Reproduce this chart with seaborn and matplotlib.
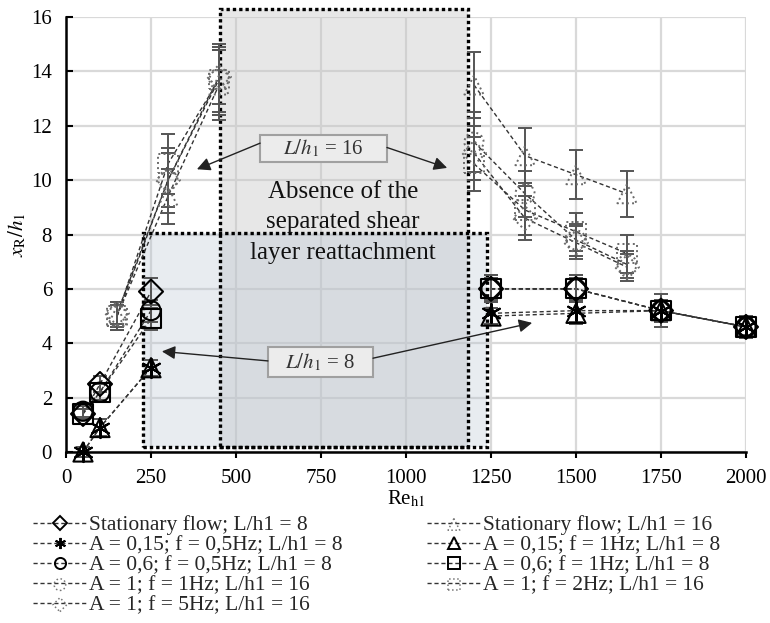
import numpy as np
import pandas as pd
import matplotlib
matplotlib.use("Agg")
import matplotlib.pyplot as plt
import seaborn as sns
from matplotlib.patches import Rectangle
from matplotlib.lines import Line2D
from matplotlib.legend_handler import HandlerTuple

# ---------------- data ----------------
re8 = [50, 100, 250, 1250, 1500, 1750, 2000]
stat8 = [1.4, 2.5, 5.9, 6.0, 6.0, 5.2, 4.6]
a015_f05 = [0.0, 0.9, 3.1, 5.1, 5.2, 5.2, 4.6]
a06_f05 = [1.5, 2.2, 5.2, 6.0, 6.0, 5.2, 4.6]
a015_f1 = [0.0, 0.9, 3.1, 5.0, 5.1, 5.2, 4.6]
a06_f1 = [1.4, 2.2, 4.9, 6.0, 6.0, 5.2, 4.6]
err8_stat = [0.2, 0.3, 0.5, 0.5, 0.5, 0.4, 0.3]
err8_a015_f05 = [0.2, 0.3, 0.3, 0.4, 0.4, 0.4, 0.3]
err8_a06_f05 = [0.2, 0.3, 0.4, 0.5, 0.5, 0.6, 0.4]
err8_a015_f1 = [0.2, 0.3, 0.3, 0.3, 0.4, 0.4, 0.3]
err8_a06_f1 = [0.2, 0.3, 0.4, 0.4, 0.4, 0.4, 0.3]

re16 = [150, 300, 450, 1200, 1350, 1500, 1650]
stat16 = [5.0, 9.4, 13.5, 13.5, 10.9, 10.2, 9.5]
a1_f1 = [5.0, 10.0, 13.7, 11.4, 9.5, 7.8, 6.9]
a1_f5 = [5.1, 10.0, 13.8, 11.0, 8.6, 7.7, 6.8]
a1_f2 = [5.0, 10.6, 13.7, 10.6, 8.9, 8.1, 7.3]
err16_stat = [0.4, 1.0, 1.3, 1.2, 1.0, 0.9, 0.85]
err16_a1_f1 = [0.5, 1.2, 1.2, 1.1, 0.85, 0.6, 0.5]
err16_a1_f5 = [0.4, 1.0, 1.0, 1.0, 0.8, 0.6, 0.5]
err16_a1_f2 = [0.5, 1.1, 1.3, 1.0, 0.9, 0.7, 0.7]

labels = [
    "Stationary flow; L/h1 = 8",
    "A = 0,15; f = 0,5Hz; L/h1 = 8",
    "A = 0,6; f = 0,5Hz; L/h1 = 8",
    "A = 1; f = 1Hz; L/h1 = 16",
    "A = 1; f = 5Hz; L/h1 = 16",
    "Stationary flow; L/h1 = 16",
    "A = 0,15; f = 1Hz; L/h1 = 8",
    "A = 0,6; f = 1Hz; L/h1 = 8",
    "A = 1; f = 2Hz; L/h1 = 16",
]

ASTER = (6, 2, 0)
series8 = [
    (stat8, err8_stat, "D", 0),
    (a015_f05, err8_a015_f05, ASTER, 1),
    (a06_f05, err8_a06_f05, "o", 2),
    (a015_f1, err8_a015_f1, "^", 6),
    (a06_f1, err8_a06_f1, "s", 7),
]
series16 = [
    (a1_f1, err16_a1_f1, "o", 3),
    (a1_f5, err16_a1_f5, "D", 4),
    (stat16, err16_stat, "^", 5),
    (a1_f2, err16_a1_f2, "s", 8),
]

# ---------------- style ----------------
sns.set_theme(style="white")
plt.rcParams["font.family"] = ["Liberation Serif", "DejaVu Serif"]
plt.rcParams["mathtext.fontset"] = "stix"

fig = plt.figure(figsize=(7.7, 6.23), dpi=100)
ax = fig.add_axes([66 / 770, 1 - 452 / 623, 680 / 770, 435 / 623])

ax.set_xlim(0, 2000)
ax.set_ylim(0, 16)
ax.set_xticks(np.arange(0, 2001, 250))
ax.set_yticks(np.arange(0, 17, 2))
ax.grid(True, color="#d9d9d9", lw=1.6)
ax.set_axisbelow(True)
for s in ["top", "right"]:
    ax.spines[s].set_visible(False)
ax.spines["left"].set_color("black")
ax.spines["left"].set_linewidth(1.8)
ax.spines["bottom"].set_color("black")
ax.spines["bottom"].set_linewidth(1.8)
ax.tick_params(axis="y", direction="in", length=5, width=1.5, colors="black",
               labelsize=15, pad=10, left=True)
ax.tick_params(axis="x", direction="out", length=4, width=1.5, colors="black",
               labelsize=15, pad=8, bottom=True)

# ---------------- shaded regions ----------------
ub = dict(x0=453, x1=1183, y0=0.2, y1=16.3)
lb = dict(x0=226, x1=1238, y0=0.2, y1=8.05)
ax.add_patch(Rectangle((ub["x0"], ub["y0"]), ub["x1"] - ub["x0"], ub["y1"] - ub["y0"],
                       facecolor="#c8c8c8", alpha=0.42, edgecolor="none", zorder=1, clip_on=False))
ax.add_patch(Rectangle((lb["x0"], lb["y0"]), lb["x1"] - lb["x0"], lb["y1"] - lb["y0"],
                       facecolor="#b8c4d2", alpha=0.32, edgecolor="none", zorder=1, clip_on=False))
for b in (ub, lb):
    ax.add_patch(Rectangle((b["x0"], b["y0"]), b["x1"] - b["x0"], b["y1"] - b["y0"],
                           facecolor="none", edgecolor="black", lw=2.4,
                           linestyle=(0, (1, 0.9)), zorder=1.5, clip_on=False))

# ---------------- lines ----------------
for ys, _, _, _ in series8:
    for sl in (slice(0, 3), slice(3, None)):
        sns.lineplot(x=re8[sl], y=ys[sl], ax=ax, color="#333333", lw=1.0,
                     linestyle=(0, (3, 2)), estimator=None, sort=False, zorder=3)
for ys, _, _, _ in series16:
    for sl in (slice(0, 3), slice(3, None)):
        sns.lineplot(x=re16[sl], y=ys[sl], ax=ax, color="#333333", lw=1.0,
                     linestyle=(0, (3, 2)), estimator=None, sort=False, zorder=3)

# ---------------- error bars ----------------
for ys, err, _, _ in series16:
    ax.errorbar(re16, ys, yerr=err, fmt="none", ecolor="#555555", elinewidth=1.4,
                capsize=5, capthick=1.4, zorder=4, clip_on=False)
for ys, err, _, _ in series8:
    ax.errorbar(re8, ys, yerr=err, fmt="none", ecolor="#555555", elinewidth=1.4,
                capsize=5, capthick=1.4, zorder=4, clip_on=False)

# ---------------- markers ----------------
msize = {"D": 150, "o": 190, "^": 190, "s": 190, ASTER: 190}
for ys, _, m, _ in series16:
    sns.scatterplot(x=re16, y=ys, ax=ax, marker=m, s=msize[m], facecolor="none",
                    edgecolor="#6a6a6a", linewidth=1.4, linestyle=":", zorder=5, clip_on=False)
for ys, _, m, _ in series8:
    sns.scatterplot(x=re8, y=ys, ax=ax, marker=m, s=msize[m],
                    facecolor="none" if m != ASTER else "black",
                    edgecolor="black", linewidth=1.5, zorder=6, clip_on=False)

# ---------------- annotations ----------------
ax.text(815, 8.45, "Absence of the\nseparated shear\nlayer reattachment", ha="center",
        va="center", fontsize=18, color="#111111", linespacing=1.5, zorder=7)
for (x0, x1, y0, y1) in [(571, 944, 10.66, 11.65), (594, 903, 2.76, 3.86)]:
    ax.add_patch(Rectangle((x0, y0), x1 - x0, y1 - y0, facecolor="#ececec",
                           edgecolor="#a0a0a0", lw=1.5, zorder=7))
ax.text(757, 11.16, r"$L/h_1$ = 16", ha="center", va="center", fontsize=15,
        color="#333333", zorder=8)
ax.text(748, 3.31, r"$L/h_1$ = 8", ha="center", va="center", fontsize=15,
        color="#333333", zorder=8)
ak = dict(arrowstyle="-|>", color="#222222", lw=1.0, mutation_scale=20,
          shrinkA=0, shrinkB=0)
ax.annotate("", xy=(385, 10.4), xytext=(571, 11.36), arrowprops=ak, zorder=7)
ax.annotate("", xy=(1121, 10.45), xytext=(944, 11.2), arrowprops=ak, zorder=7)
ax.annotate("", xy=(282, 3.7), xytext=(594, 3.35), arrowprops=ak, zorder=7)
ax.annotate("", xy=(1371, 4.75), xytext=(903, 3.45), arrowprops=ak, zorder=7)

# ---------------- axis labels ----------------
ax.set_xlabel(r"Re$_{\mathrm{h1}}$", fontsize=15, color="black", labelpad=1)
ax.set_ylabel(r"$x_{\mathrm{R}}/h_1$", fontsize=15, color="black", labelpad=2)

# ---------------- legend ----------------
line_proxy = Line2D([], [], ls=(0, (3, 2)), color="#333333", lw=1.0)
handles = [None] * 9
for ys, _, m, idx in series8:
    mk = Line2D([], [], ls="none", marker=m, mfc="none" if m != ASTER else "black",
                mec="black", ms=8 if m != "D" else 7, mew=1.4)
    handles[idx] = (line_proxy, mk)
for ys, _, m, idx in series16:
    sc = ax.scatter([], [], marker=m, s=70 if m != "D" else 50, facecolor="none",
                    edgecolor="#777777", linewidth=1.1, linestyle=":")
    handles[idx] = (line_proxy, sc)

legkw = dict(frameon=False, fontsize=15.5, handlelength=2.5, handletextpad=0.1,
             labelspacing=0.0, borderpad=0, borderaxespad=0,
             handler_map={tuple: HandlerTuple(ndivide=1, pad=0)})
leg1 = fig.legend(handles[:5], labels[:5], loc="upper left",
                  bbox_to_anchor=(33 / 770, 1 - 515 / 623), **legkw)
leg2 = fig.legend(handles[5:], labels[5:], loc="upper left",
                  bbox_to_anchor=(427 / 770, 1 - 515 / 623), **legkw)

fig.savefig("out.png", dpi=100)
